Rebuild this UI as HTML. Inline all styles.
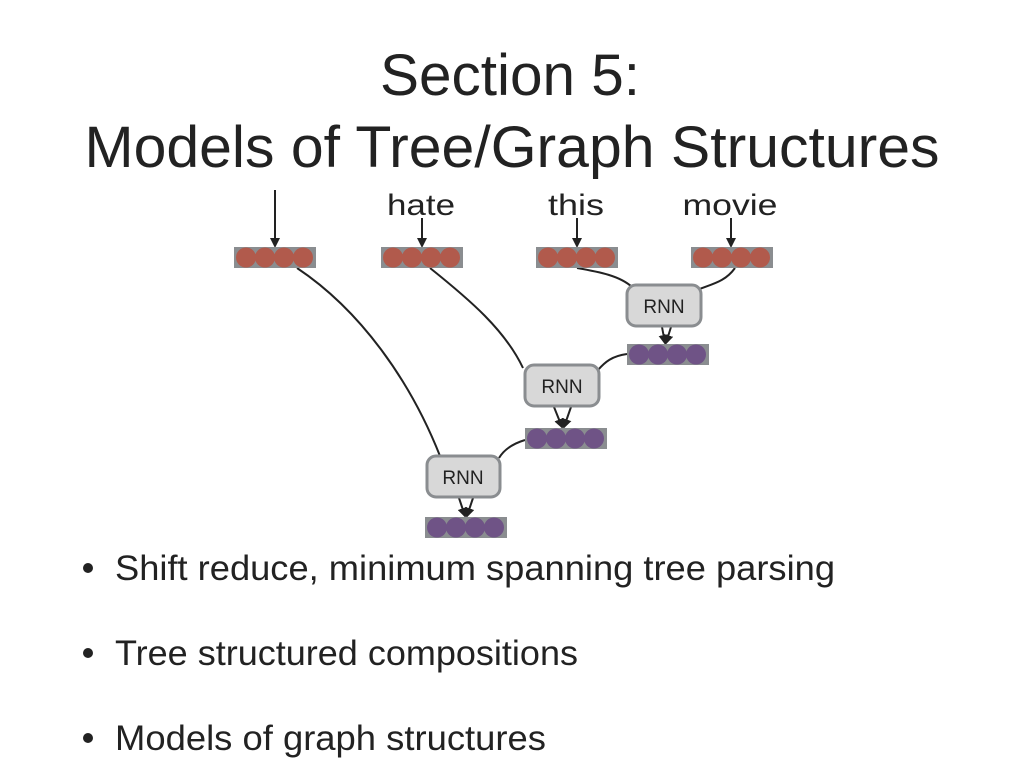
<!DOCTYPE html>
<html><head><meta charset="utf-8"><style>
html,body{margin:0;padding:0;background:#fff;}
svg{display:block;}
text{font-family:"Liberation Sans",sans-serif;fill:#222;}
</style></head><body>
<svg width="1024" height="768" viewBox="0 0 1024 768" xmlns="http://www.w3.org/2000/svg">
<defs>
<g id="red">
<rect x="0" y="0" width="82" height="21" fill="#8a8d90"/>
<circle cx="12" cy="10.5" r="10" fill="#b15a4c"/>
<circle cx="31" cy="10.5" r="10" fill="#b15a4c"/>
<circle cx="50" cy="10.5" r="10" fill="#b15a4c"/>
<circle cx="69" cy="10.5" r="10" fill="#b15a4c"/>
</g>
<g id="pur">
<rect x="0" y="0" width="82" height="21" fill="#8a8d90"/>
<circle cx="12" cy="10.5" r="10" fill="#6f5386"/>
<circle cx="31" cy="10.5" r="10" fill="#6f5386"/>
<circle cx="50" cy="10.5" r="10" fill="#6f5386"/>
<circle cx="69" cy="10.5" r="10" fill="#6f5386"/>
</g>
<marker id="ah" markerWidth="10" markerHeight="10" refX="8" refY="5" orient="auto" markerUnits="userSpaceOnUse">
<path d="M0,0 L10,5 L0,10 z" fill="#222"/>
</marker>
</defs>

<text x="510" y="95" font-size="58" text-anchor="middle" textLength="260" lengthAdjust="spacingAndGlyphs">Section 5:</text>
<text x="512" y="167" font-size="58" text-anchor="middle" textLength="855" lengthAdjust="spacingAndGlyphs">Models of Tree/Graph Structures</text>

<text x="421" y="215" font-size="30" text-anchor="middle" textLength="68" lengthAdjust="spacingAndGlyphs">hate</text>
<text x="576" y="215" font-size="30" text-anchor="middle" textLength="56" lengthAdjust="spacingAndGlyphs">this</text>
<text x="730" y="215" font-size="30" text-anchor="middle" textLength="95" lengthAdjust="spacingAndGlyphs">movie</text>

<g stroke="#222" stroke-width="2" fill="none">
<line x1="275" y1="190" x2="275" y2="246" marker-end="url(#ah)"/>
<line x1="422" y1="218" x2="422" y2="246" marker-end="url(#ah)"/>
<line x1="577" y1="218" x2="577" y2="246" marker-end="url(#ah)"/>
<line x1="731" y1="218" x2="731" y2="246" marker-end="url(#ah)"/>
<path d="M297 268 C360 310 410 380 440 456"/>
<path d="M430 268 C470 300 505 330 523 368"/>
<path d="M577 268 C600 272 620 276 632 287"/>
<path d="M735 268 C725 282 712 284 697 290"/>
<path d="M627 354 C612 356 605 362 598 370"/>
<path d="M525 440 C515 443 505 448 499 458"/>
<line x1="662" y1="327" x2="665" y2="343" marker-end="url(#ah)"/>
<line x1="671" y1="327" x2="666" y2="343" marker-end="url(#ah)"/>
<line x1="554" y1="407" x2="562" y2="427" marker-end="url(#ah)"/>
<line x1="571" y1="407" x2="564" y2="427" marker-end="url(#ah)"/>
<line x1="459" y1="498" x2="465" y2="516" marker-end="url(#ah)"/>
<line x1="473" y1="498" x2="467" y2="516" marker-end="url(#ah)"/>
</g>

<use href="#red" x="234" y="247"/>
<use href="#red" x="381" y="247"/>
<use href="#red" x="536" y="247"/>
<use href="#red" x="691" y="247"/>
<use href="#pur" x="627" y="344"/>
<use href="#pur" x="525" y="428"/>
<use href="#pur" x="425" y="517"/>

<g fill="#d8d8d8" stroke="#8a8d90" stroke-width="3">
<rect x="627" y="285" width="74" height="41" rx="9"/>
<rect x="525" y="365" width="74" height="41" rx="9"/>
<rect x="427" y="456" width="73" height="41" rx="9"/>
</g>
<text x="664" y="313" font-size="19" text-anchor="middle">RNN</text>
<text x="562" y="393" font-size="19" text-anchor="middle">RNN</text>
<text x="463" y="484" font-size="19" text-anchor="middle">RNN</text>

<circle cx="88" cy="568" r="5" fill="#222"/>
<circle cx="88" cy="653" r="5" fill="#222"/>
<circle cx="88" cy="738" r="5" fill="#222"/>
<text x="115" y="580" font-size="35" textLength="720" lengthAdjust="spacingAndGlyphs">Shift reduce, minimum spanning tree parsing</text>
<text x="115" y="665" font-size="35" textLength="463" lengthAdjust="spacingAndGlyphs">Tree structured compositions</text>
<text x="115" y="750" font-size="35" textLength="431" lengthAdjust="spacingAndGlyphs">Models of graph structures</text>
</svg>
</body></html>
